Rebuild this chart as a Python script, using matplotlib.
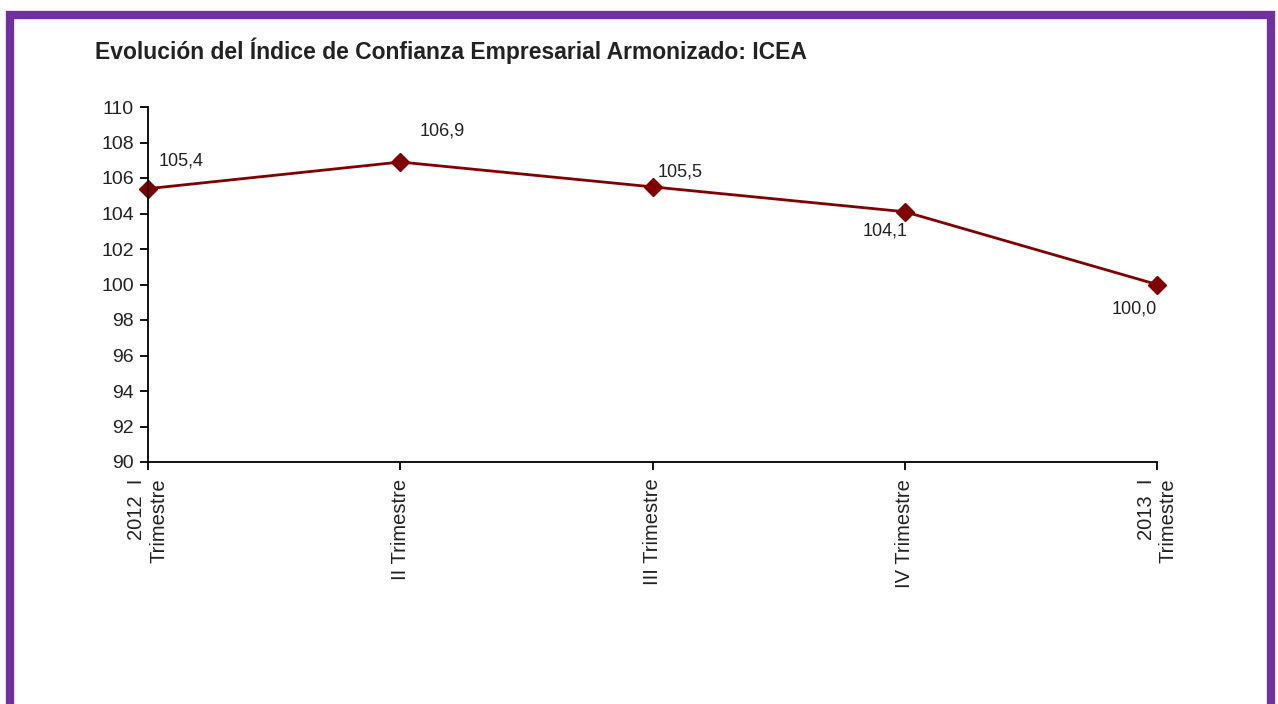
import numpy as np
import matplotlib
matplotlib.use('Agg')
import matplotlib.pyplot as plt
from matplotlib.patches import Rectangle

rcParams = matplotlib.rcParams
rcParams['font.family'] = ['Liberation Sans', 'DejaVu Sans']
rcParams['font.size'] = 12

#%% Data
quarters = ['2012  I\nTrimestre', 'II Trimestre', 'III Trimestre',
            'IV Trimestre', '2013  I\nTrimestre']
icea = [105.4, 106.9, 105.5, 104.1, 100.0]
value_labels = ['105,4', '106,9', '105,5', '104,1', '100,0']
# label offsets in points (dx, dy)
offsets = [(8, 20), (14, 22), (4, 11), (-30, -14), (-33, -18)]

#%% Figure
fig = plt.figure(figsize=(12.78, 7.04), dpi=100)
fig.patch.set_facecolor('white')

# purple frame (bottom runs off the picture)
frame = Rectangle((10/1278, -0.1), 1261/1278, 1.1 - 15/704,
                  transform=fig.transFigure, fill=False,
                  edgecolor='#7030a0', linewidth=6, zorder=0)
fig.patches.append(frame)

ax = fig.add_axes([148/1278, 1 - 462/704, 1009/1278, 355/704])
x = np.arange(len(icea))
ax.plot(x, icea, color='#800000', lw=2, marker='D', markersize=9,
        markerfacecolor='#800000', markeredgecolor='#800000', clip_on=False)

for xi, yi, lab, (dx, dy) in zip(x, icea, value_labels, offsets):
    ax.annotate(lab, (xi, yi), xytext=(dx, dy), textcoords='offset points',
                fontsize=13, color='#222222', ha='left', va='center')

ax.set_xlim(0, 4)
ax.set_ylim(90, 110)
ax.set_yticks(np.arange(90, 111, 2))
ax.set_xticks(x)
ax.set_xticklabels(quarters, rotation=90, ha='center', va='top',
                   multialignment='right', color='#222222')
ax.tick_params(axis='y', labelsize=14, length=6, width=1.3, colors='black',
               labelcolor='#222222', pad=4)
ax.tick_params(axis='x', labelsize=14.5, length=6, width=1.3, pad=6)

for s in ['top', 'right']:
    ax.spines[s].set_visible(False)
for s in ['left', 'bottom']:
    ax.spines[s].set_linewidth(1.3)

fig.text(95/1278, 1 - 51/704, 'Evolución del Índice de Confianza Empresarial Armonizado: ICEA',
         fontsize=16.5, fontweight='bold', color='#222222', ha='left', va='center')

fig.savefig('out.png', dpi=100, facecolor='white')
